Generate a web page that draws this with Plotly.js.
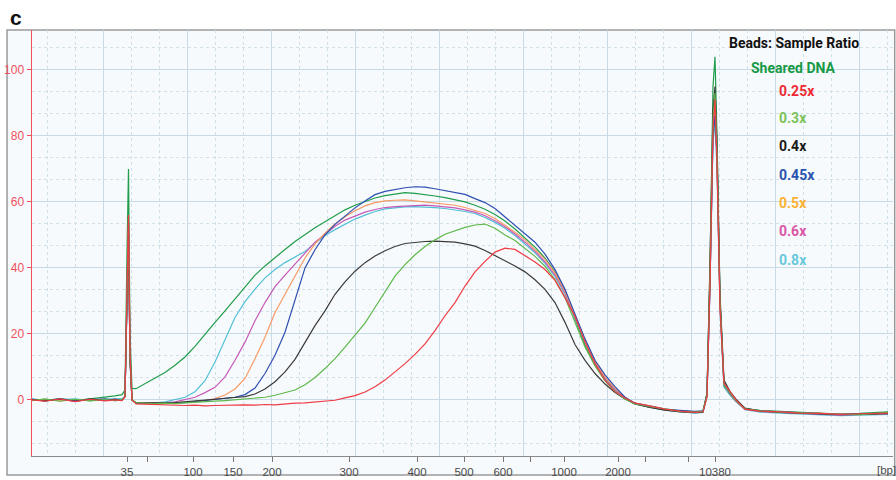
<!DOCTYPE html>
<html>
<head>
<meta charset="utf-8">
<script src="https://cdn.plot.ly/plotly-3.0.1.min.js"></script>
<style>
html,body{margin:0;padding:0;background:#fff;}
#chart{width:896px;height:480px;}
</style>
</head>
<body>
<div id="chart"></div>
<script>
// Migration time (arbitrary units) of each sampled point
const migTime = [3.2, 4.5, 6.0, 7.5, 9.0, 10.5, 11.5, 12.2, 12.5, 12.7, 12.85, 13.0, 13.2, 13.6,
  14.5, 15.5, 16.5, 17.5, 18.5, 19.5, 20.5, 21.5, 22.5, 23.5, 24.5, 25.5, 26.5, 27.5, 28.5, 29.5,
  30.5, 31.5, 32.5, 33.5, 34.5, 35.5, 36.5, 37.5, 38.5, 39.5, 40.5, 41.5, 42.5, 43.5, 44.5, 45.5,
  46.5, 47.5, 48.5, 49.5, 50.5, 51.5, 52.5, 53.5, 54.5, 55.5, 56.5, 57.5, 58.5, 59.5, 60.5, 61.5,
  62.5, 63.5,
  65.0, 66.5, 68.0, 69.5, 70.3, 70.7, 71.0, 71.3, 71.5, 71.7, 72.0, 72.4, 73.0, 73.6, 74.5, 76.0,
  78.0, 80.0, 82.0, 84.0, 86.0, 88.8];

// Fluorescence units, one array per sample
const shearedDNA = [0.2, -0.3, 0.4, -0.2, 0.3, 0.8, 1.2, 1.6, 3.0, 45, 70, 20, 3.5, 3.4,
  5.0, 6.6, 8.3, 10.5, 13.0, 16.2, 20.0, 23.5, 27.0, 30.5, 34.2, 37.8, 40.6, 43.2, 45.6, 48.0,
  50.2, 52.2, 54.0, 55.8, 57.6, 59.0, 60.2, 61.2, 61.9, 62.4, 62.8, 62.6, 62.3, 61.8, 61.3, 60.7,
  60.0, 59.0, 57.8, 56.2, 54.2, 51.8, 49.2, 46.3, 43.0, 38.8, 33.3, 24.5, 16.5, 10.5, 6.5, 2.8, 0.5, -1.2,
  -2.2, -2.9, -3.3, -3.6, -3.4, 2, 40, 95, 104, 80, 30, 4, 1.5, -0.5, -2.6, -3.2, -3.5, -3.8, -4.0, -4.3, -4.1, -3.6];

const ratio025 = [0.0, -0.4, 0.3, -0.5, 0.2, -0.3, 0.0, -0.2, 1.0, 35, 56, 14, 0.0, -1.2,
  -1.3, -1.5, -1.6, -1.5, -1.7, -1.6, -1.8, -1.7, -1.6, -1.7, -1.5, -1.6, -1.4, -1.5, -1.2, -1.0,
  -0.9, -0.7, -0.5, -0.1, 0.6, 1.3, 2.4, 4.0, 6.0, 8.5, 11.0, 13.8, 17.0, 21.0, 25.5, 29.5,
  34.5, 38.8, 42.0, 44.8, 46.0, 45.6, 43.8, 41.8, 39.5, 36.2, 31.0, 25.3, 17.5, 11.0, 6.0, 2.5, 0.6, -1.0,
  -1.8, -2.8, -3.4, -3.8, -3.6, 1, 35, 82, 91, 72, 28, 5, 2.5, 0.0, -2.8, -3.4, -3.6, -4.0, -4.1, -4.4, -4.2, -4.0];

const ratio03 = [-0.2, 0.3, -0.4, 0.2, -0.3, 0.1, -0.2, 0.1, 1.0, 33, 55, 13, 0.0, -0.8,
  -1.0, -1.1, -1.0, -1.1, -0.9, -0.8, -0.6, -0.4, -0.2, 0.0, 0.2, 0.5, 0.8, 1.4, 2.2, 3.0,
  4.6, 6.8, 9.5, 12.5, 16.0, 19.6, 23.3, 28.0, 32.8, 37.5, 41.0, 44.0, 46.5, 48.5, 50.2, 51.3,
  52.3, 53.0, 53.3, 52.0, 50.0, 48.3, 46.0, 43.5, 40.5, 36.5, 31.0, 23.5, 16.0, 10.3, 5.8, 2.5, 0.3, -1.2,
  -2.0, -2.9, -3.5, -3.7, -3.5, 1.5, 38, 85, 93, 75, 30, 4.5, 2.0, -0.3, -2.7, -3.3, -3.7, -3.9, -4.2, -4.3, -4.5, -3.8];

const ratio04 = [0.1, -0.3, 0.2, -0.4, 0.3, -0.1, 0.2, -0.1, 1.0, 33, 54, 13, 0.0, -0.8,
  -0.9, -1.0, -0.9, -0.8, -0.6, -0.3, 0.0, 0.2, 0.5, 0.7, 1.0, 1.8, 3.3, 5.5, 8.5, 12.3,
  17.5, 22.5, 27.0, 32.0, 35.8, 39.0, 41.6, 43.6, 45.2, 46.5, 47.4, 47.8, 48.0, 48.1, 48.0, 47.8,
  47.3, 46.6, 45.3, 43.8, 42.3, 40.6, 38.8, 36.4, 33.5, 29.5, 23.5, 16.8, 12.0, 8.0, 4.8, 2.2, 0.3, -1.2,
  -2.3, -3.1, -3.6, -3.9, -3.7, 2, 42, 88, 95, 78, 32, 6, 2.5, 0.2, -2.5, -3.4, -3.8, -4.1, -4.3, -4.5, -4.4, -4.2];

const ratio045 = [0.2, -0.1, 0.3, -0.3, 0.0, 0.3, -0.2, 0.0, 1.0, 30, 50, 12, 0.0, -1.0,
  -1.0, -1.1, -1.0, -0.9, -0.8, -0.5, -0.2, 0.0, 0.3, 0.8, 1.6, 3.6, 8.0, 13.5, 20.5, 30.0,
  40.0, 45.5, 50.0, 53.2, 55.8, 58.2, 60.3, 62.2, 63.2, 63.8, 64.3, 64.6, 64.5, 64.0, 63.4, 62.8,
  62.3, 61.0, 59.8, 58.0, 55.5, 52.8, 50.3, 47.8, 44.2, 39.5, 33.5, 26.0, 18.5, 12.0, 7.6, 4.0, 0.8, -1.0,
  -2.0, -2.8, -3.2, -3.5, -3.3, 1.5, 36, 80, 86, 74, 30, 5, 2.0, 0.0, -2.6, -3.3, -3.6, -3.9, -4.0, -4.4, -4.3, -4.0];

const ratio05 = [-0.1, 0.2, -0.3, 0.1, -0.2, 0.2, 0.0, -0.1, 1.0, 32, 52, 12, 0.0, -1.0,
  -1.0, -1.1, -1.0, -0.9, -0.7, -0.5, -0.2, 0.4, 1.5, 3.3, 6.5, 12.5, 19.0, 26.5, 32.0, 37.5,
  43.0, 47.3, 50.5, 53.3, 55.5, 57.3, 58.8, 59.8, 60.3, 60.5, 60.6, 60.3, 60.0, 59.8, 59.4, 59.0,
  58.3, 57.5, 56.5, 55.0, 53.0, 50.8, 48.5, 45.7, 42.6, 38.5, 33.0, 25.5, 18.0, 11.8, 7.0, 3.5, 0.8, -1.0,
  -2.1, -2.9, -3.4, -3.6, -3.5, 1, 37, 84, 89, 73, 29, 5, 2.2, -0.2, -2.6, -3.4, -3.7, -3.9, -4.2, -4.3, -4.5, -4.1];

const ratio06 = [0.1, -0.2, 0.2, -0.3, 0.1, -0.1, 0.2, 0.0, 1.0, 32, 53, 12, 0.0, -1.0,
  -1.0, -1.0, -0.8, -0.6, 0.0, 0.8, 2.2, 3.8, 7.0, 12.0, 17.5, 24.0, 29.5, 34.3, 37.8, 41.0,
  44.5, 47.8, 50.3, 52.6, 54.5, 55.8, 56.9, 57.7, 58.3, 58.6, 58.8, 59.0, 59.0, 58.8, 58.5, 58.2,
  57.6, 56.9, 55.8, 54.3, 52.5, 50.3, 47.8, 45.0, 41.8, 37.8, 32.5, 25.2, 17.8, 11.5, 6.8, 3.3, 0.6, -1.1,
  -2.2, -3.0, -3.5, -3.8, -3.6, 1, 35, 81, 87, 72, 28, 4.5, 1.8, -0.4, -2.9, -3.5, -3.8, -4.1, -4.3, -4.6, -4.4, -4.2];

const ratio08 = [0.3, -0.1, 0.1, 0.3, -0.2, 0.2, 0.4, 0.3, 1.0, 31, 51, 12, 0.0, -1.0,
  -1.0, -0.9, -0.6, 0.0, 0.8, 2.5, 5.8, 11.5, 18.5, 25.0, 29.8, 33.6, 37.0, 39.5, 41.6, 43.2,
  45.0, 47.5, 49.8, 51.6, 53.3, 54.8, 56.0, 57.1, 57.9, 58.3, 58.5, 58.6, 58.5, 58.3, 58.0, 57.6,
  57.1, 56.5, 55.3, 53.8, 52.0, 49.8, 47.3, 44.6, 41.4, 37.4, 32.0, 24.8, 17.5, 11.2, 6.5, 3.0, 0.4, -1.2,
  -2.3, -3.1, -3.6, -4.0, -3.8, 1, 34, 78, 84, 70, 27, 4, 1.5, -0.5, -3.0, -3.7, -4.0, -4.3, -4.5, -4.8, -4.6, -4.4];

// Size-ladder ticks (bp) at their migration times
const bpTickPos = [12.7, 14.7, 19.3, 23.3, 27.2, 34.9, 41.7, 46.4, 50.3, 53.0, 56.4, 61.8, 64.5, 68.8, 71.5];
const bpTickText = ['35', '', '100', '150', '200', '300', '400', '500', '600', '', '1000', '2000', '', '', '10380'];
const yTicks = [0, 20, 40, 60, 80, 100];

// Legend labels
const legendTitle = 'Beads: Sample Ratio';
const sampleNames = ['Sheared DNA', '0.25x', '0.3x', '0.4x', '0.45x', '0.5x', '0.6x', '0.8x'];
const sampleSeries = [shearedDNA, ratio025, ratio03, ratio04, ratio045, ratio05, ratio06, ratio08];
const lineColors = ['#1f9d4b', '#ee3b44', '#5db84b', '#3a3a3a', '#2f4fb0', '#f79a64', '#c65ab8', '#52c0d6'];
const textColors = ['#169a47', '#ee2a34', '#7cc35a', '#1a1a1a', '#2a53ae', '#fbb234', '#d957a8', '#6ac7dc'];
const drawOrder = [0, 7, 6, 5, 4, 3, 2, 1];

const X_RANGE = [3.2, 89.3];
const Y_RANGE = [-17, 112.1];

const traces = drawOrder.map(i => ({
  type: 'scatter', mode: 'lines', x: migTime, y: sampleSeries[i], name: sampleNames[i],
  line: {color: lineColors[i], width: 1.2}, showlegend: false, hoverinfo: 'skip'
}));
// helper trace carrying the grid axis
traces.unshift({type: 'scatter', mode: 'markers', x: [X_RANGE[0]], y: [null], xaxis: 'x2',
  showlegend: false, hoverinfo: 'skip', marker: {opacity: 0}});

const lblFont = "Roboto, 'Liberation Sans', Arial, sans-serif";
const annotations = [];
annotations.push({xref: 'paper', yref: 'paper', x: -0.0279, y: 1.0305, xanchor: 'left', yanchor: 'middle',
  text: '<b>c</b>', showarrow: false, font: {family: "'Liberation Sans', Arial, sans-serif", size: 21, color: '#111'}});
annotations.push({xref: 'paper', yref: 'paper', x: 0.885, y: 0.9695, xanchor: 'center', yanchor: 'middle',
  text: '<b>' + legendTitle + '</b>', showarrow: false, font: {family: lblFont, size: 14, color: '#111'}});
annotations.push({xref: 'paper', yref: 'paper', x: 0.884, y: 0.9108, xanchor: 'center', yanchor: 'middle',
  text: '<b>' + sampleNames[0] + '</b>', showarrow: false, font: {family: lblFont, size: 14, color: textColors[0]}});
const legendY = [0.8568, 0.7934, 0.7277, 0.6596, 0.5939, 0.5282, 0.4601];
for (let i = 1; i < sampleNames.length; i++) {
  annotations.push({xref: 'paper', yref: 'paper', x: 0.8653, y: legendY[i - 1], xanchor: 'left', yanchor: 'middle',
    text: '<b>' + sampleNames[i] + '</b>', showarrow: false, font: {family: lblFont, size: 14, color: textColors[i]}});
}
annotations.push({xref: 'paper', yref: 'paper', x: 0.993, y: -0.033, xanchor: 'center', yanchor: 'middle',
  text: '[bp]', showarrow: false, font: {family: "'Liberation Sans', Arial, sans-serif", size: 11.5, color: '#4a4a4a'}});

const layout = {
  width: 896, height: 480,
  margin: {l: 32, r: 3, t: 30, b: 24, pad: 0},
  paper_bgcolor: '#ffffff',
  plot_bgcolor: 'rgba(0,0,0,0)',
  showlegend: false,
  xaxis: {
    range: X_RANGE, tickmode: 'array', tickvals: bpTickPos, ticktext: bpTickText,
    showgrid: false, zeroline: false, showline: true, linecolor: '#8a8a8a', linewidth: 1,
    ticks: 'outside', ticklen: 5, tickcolor: '#777', tickwidth: 1,
    tickfont: {family: "'Liberation Sans', Arial, sans-serif", size: 11.5, color: '#4a4a4a'},
    fixedrange: true
  },
  xaxis2: {
    overlaying: 'x', anchor: 'y', range: X_RANGE, tick0: 10.3, dtick: 8.4,
    showticklabels: false, ticks: '', showline: false, zeroline: false,
    showgrid: true, gridcolor: '#c8dae5', gridwidth: 1,
    minor: {tick0: 10.3, dtick: 2.8, showgrid: true, gridcolor: '#d2e0e9', griddash: 'dot', gridwidth: 1, ticks: ''}
  },
  yaxis: {
    range: Y_RANGE, tickmode: 'array', tickvals: yTicks,
    showgrid: true, gridcolor: '#c8dae5', gridwidth: 1, zeroline: false,
    minor: {tick0: 0, dtick: 20 / 3, showgrid: true, gridcolor: '#d2e0e9', griddash: 'dot', gridwidth: 1, ticks: ''},
    showline: true, linecolor: '#f2505c', linewidth: 1.5,
    ticks: 'outside', ticklen: 4, tickcolor: '#f2505c', tickwidth: 1,
    tickfont: {family: "'Liberation Sans', Arial, sans-serif", size: 12, color: '#f0505c'},
    fixedrange: true
  },
  shapes: [
    {type: 'rect', xref: 'paper', yref: 'paper', x0: -0.029, x1: 1.002, y0: -0.0446, y1: 1.0,
      line: {color: '#9a9a9a', width: 1.5}, fillcolor: '#f7fafc', layer: 'below'}
  ],
  annotations: annotations
};

Plotly.newPlot('chart', traces, layout, {displayModeBar: false, staticPlot: true});
</script>
</body>
</html>
